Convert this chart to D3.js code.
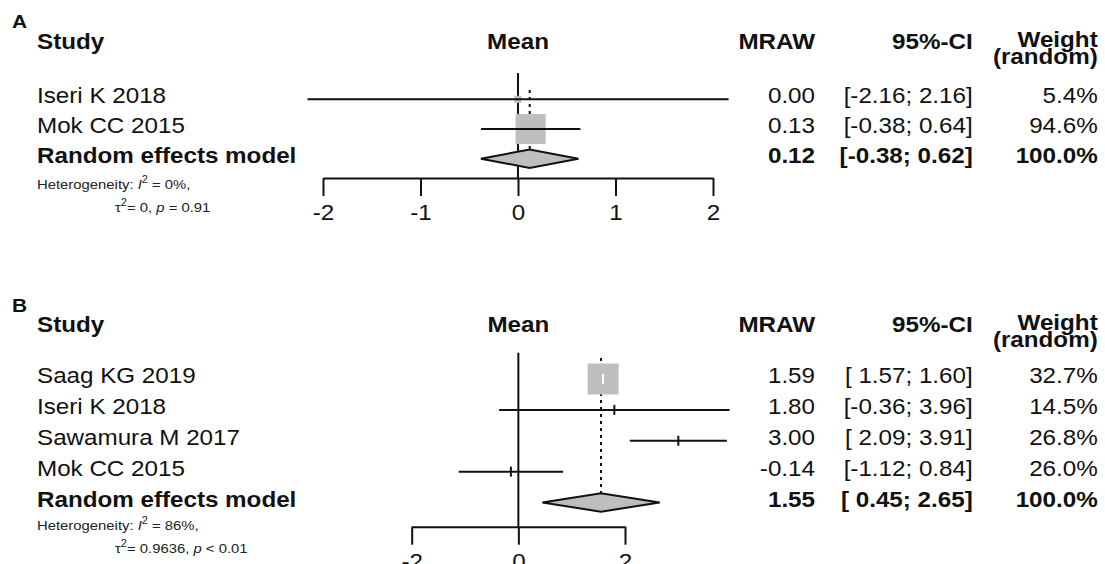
<!DOCTYPE html>
<html>
<head>
<meta charset="utf-8">
<script src="https://cdn.jsdelivr.net/npm/d3@7"></script>
<style>
  body { margin: 0; background: #fff; }
  svg { display: block; font-family: "Liberation Sans", Arial, Helvetica, sans-serif; }
</style>
</head>
<body>
<svg id="forest"></svg>
<script>
// ---- panel A data ----
const studiesA = ["Iseri K 2018", "Mok CC 2015"];
const mrawA = [0.0, 0.13];
const lowerA = [-2.16, -0.38];
const upperA = [2.16, 0.64];
const weightRandomA = [5.4, 94.6];
const weightFixedA = [5.4, 94.6];
const pooledA = [0.12, -0.38, 0.62];
const ticksA = [-2, -1, 0, 1, 2];
const hetA = ["0%", "0", "= 0.91"];

// ---- panel B data ----
const studiesB = ["Saag KG 2019", "Iseri K 2018", "Sawamura M 2017", "Mok CC 2015"];
const mrawB = [1.59, 1.8, 3.0, -0.14];
const lowerB = [1.57, -0.36, 2.09, -1.12];
const upperB = [1.6, 3.96, 3.91, 0.84];
const weightRandomB = [32.7, 14.5, 26.8, 26.0];
const weightFixedB = [99.96, 0.01, 0.02, 0.01];
const pooledB = [1.55, 0.45, 2.65];
const ticksB = [-2, 0, 2];
const hetB = ["86%", "0.9636", "< 0.01"];

const W = 1105, H = 564;
const SX = 1.1; // the figure is a bit stretched sideways
const GRAY = "#bebebe";

const svg = d3.select("#forest").attr("width", W).attr("height", H);
svg.append("rect").attr("width", W).attr("height", H).attr("fill", "#fff");

const f2 = d3.format(".2f");
const f1 = d3.format(".1f");
const num = (v) => f2(v).replace("−", "-");
const ci = (lo, hi) => "[" + (lo >= 0 ? " " : "") + num(lo) + "; " + num(hi) + "]";

function label(g, x, y, s, anchor = "start", size = 22, weight = "normal") {
  return g
    .append("text")
    .attr("transform", `translate(${x},${y}) scale(${SX},1)`)
    .attr("text-anchor", anchor)
    .attr("font-size", size)
    .attr("font-weight", weight)
    .attr("fill", "#111")
    .text(s);
}

function drawPanel(p) {
  const g = svg.append("g");
  const n = p.studies.length;

  const x = d3.scaleLinear().domain([-2, 2]).range(p.xRange);
  const y = d3.scaleLinear().domain([0, n]).range([p.firstRow, p.pooledRow]);
  const box = d3.scaleSqrt().domain([0, 100]).range([0, 31]);

  // headers
  label(g, 12, p.letterY, p.letter, "start", 19, "bold");
  label(g, 37, p.headerY, "Study", "start", 22, "bold");
  label(g, x(0), p.headerY, "Mean", "middle", 22, "bold");
  label(g, 815, p.headerY, "MRAW", "end", 22, "bold");
  label(g, 972.7, p.headerY, "95%-CI", "end", 22, "bold");
  label(g, 1097.7, p.headerY - 1.5, "Weight", "end", 22, "bold");
  label(g, 1097.7, p.headerY + 15.5, "(random)", "end", 22, "bold");

  // study rows text
  p.studies.forEach((s, i) => {
    const yy = y(i) + 4;
    label(g, 37, yy, s);
    label(g, 815, yy, num(p.mraw[i]), "end");
    label(g, 972.7, yy, ci(p.lower[i], p.upper[i]), "end");
    label(g, 1097.7, yy, f1(p.weight[i]) + "%", "end");
  });
  const yp = y(n) + 4;
  label(g, 37, yp, "Random effects model", "start", 22, "bold");
  label(g, 815, yp, num(p.pooled[0]), "end", 22, "bold");
  label(g, 972.7, yp, ci(p.pooled[1], p.pooled[2]), "end", 22, "bold");
  label(g, 1097.7, yp, "100.0%", "end", 22, "bold");

  // heterogeneity
  const h1 = label(g, 37, p.het1Y, "Heterogeneity: ", "start", 13.5).attr("fill", "#222");
  h1.append("tspan").attr("font-style", "italic").text("I");
  h1.append("tspan").attr("font-size", 10).attr("dy", -6).text("2");
  h1.append("tspan").attr("dy", 6).text(" = " + p.het[0] + ",");
  const h2 = label(g, 115, p.het2Y, "\u03c4", "start", 13.5).attr("fill", "#222");
  h2.append("tspan").attr("font-size", 10).attr("dy", -6).text("2");
  h2.append("tspan").attr("dy", 6).text("= " + p.het[1] + ",  ");
  h2.append("tspan").attr("font-style", "italic").text("p");
  h2.append("tspan").text(" " + p.het[2]);

  // zero line
  g.append("line")
    .attr("x1", x(0)).attr("x2", x(0))
    .attr("y1", p.zeroTop).attr("y2", p.axisY)
    .attr("stroke", "#111").attr("stroke-width", 2);

  // pooled estimate dotted line
  const dh = 9.2;
  g.append("line")
    .attr("x1", x(p.pooled[0])).attr("x2", x(p.pooled[0]))
    .attr("y1", p.dotTop).attr("y2", y(n) - dh)
    .attr("stroke", "#111").attr("stroke-width", 2)
    .attr("stroke-dasharray", "3,4");

  // boxes
  p.studies.forEach((s, i) => {
    const sz = box(p.weightFixed[i]);
    g.append("rect")
      .attr("x", x(p.mraw[i]) - sz / 2).attr("y", y(i) - sz / 2)
      .attr("width", sz).attr("height", sz)
      .attr("fill", GRAY);
  });

  // CI lines and ticks
  p.studies.forEach((s, i) => {
    const sz = box(p.weightFixed[i]);
    const inside = x(p.lower[i]) >= x(p.mraw[i]) - sz / 2 && x(p.upper[i]) <= x(p.mraw[i]) + sz / 2;
    const col = inside ? "#fff" : "#111";
    g.append("line")
      .attr("x1", x(p.lower[i])).attr("x2", x(p.upper[i]))
      .attr("y1", y(i)).attr("y2", y(i))
      .attr("stroke", col).attr("stroke-width", 2);
    if (inside || sz < 4) {
      g.append("line")
        .attr("x1", x(p.mraw[i])).attr("x2", x(p.mraw[i]))
        .attr("y1", y(i) - 5).attr("y2", y(i) + 5)
        .attr("stroke", col).attr("stroke-width", 2);
    }
  });

  // pooled diamond
  const yc = y(n);
  g.append("path")
    .attr("d", `M${x(p.pooled[1])},${yc} L${x(p.pooled[0])},${yc - dh} L${x(p.pooled[2])},${yc} L${x(p.pooled[0])},${yc + dh} Z`)
    .attr("fill", GRAY).attr("stroke", "#111").attr("stroke-width", 2);

  // axis
  const ax = g.append("g")
    .attr("transform", `translate(0,${p.axisY})`)
    .call(d3.axisBottom(x).tickValues(p.ticks).tickSize(18).tickSizeOuter(0).tickFormat((d) => String(d)));
  ax.attr("font-family", null);
  ax.select(".domain").attr("stroke", "#111").attr("stroke-width", 2);
  ax.selectAll(".tick line").attr("stroke", "#111").attr("stroke-width", 2);
  ax.selectAll(".tick text")
    .attr("font-size", 22).attr("fill", "#111")
    .attr("dy", null).attr("y", 42)
    .attr("transform", `scale(${SX},1)`);
}

drawPanel({
  letter: "A", studies: studiesA, mraw: mrawA, lower: lowerA, upper: upperA,
  weight: weightRandomA, weightFixed: weightFixedA, pooled: pooledA, ticks: ticksA, het: hetA,
  xRange: [323, 713], letterY: 28, headerY: 48.5, firstRow: 99.3, pooledRow: 158.7,
  axisY: 178, zeroTop: 73, dotTop: 90, het1Y: 189, het2Y: 211.7
});

drawPanel({
  letter: "B", studies: studiesB, mraw: mrawB, lower: lowerB, upper: upperB,
  weight: weightRandomB, weightFixed: weightFixedB, pooled: pooledB, ticks: ticksB, het: hetB,
  xRange: [411.7, 625], letterY: 311.5, headerY: 331.7, firstRow: 379, pooledRow: 502.5,
  axisY: 526.7, zeroTop: 352.7, dotTop: 358, het1Y: 530, het2Y: 553
});
</script>
</body>
</html>
